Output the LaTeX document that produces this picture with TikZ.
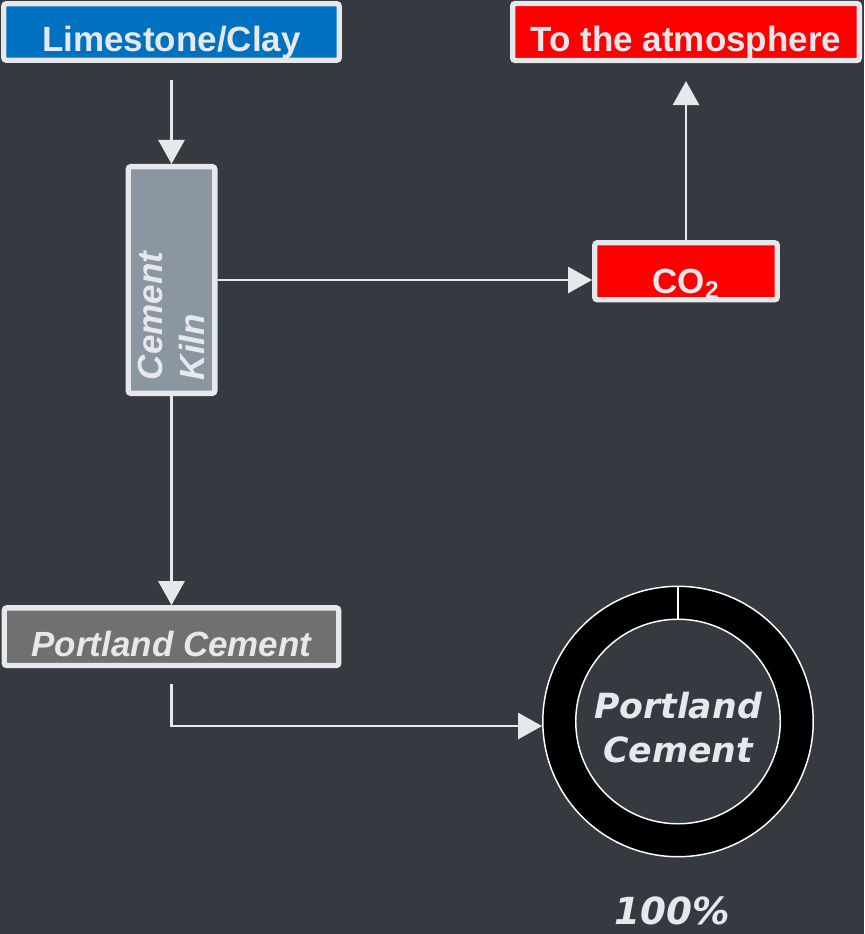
\documentclass[tikz,border=0pt]{standalone}
\usepackage{fontspec}
\setmainfont{Liberation Sans}
\newfontfamily\ringfont{DejaVu Sans}
\usepackage{tikz}
\usetikzlibrary{arrows.meta}

\definecolor{bgdark}{HTML}{353940}
\definecolor{paleline}{HTML}{E6E8EC}
\definecolor{feedblue}{HTML}{0070C0}
\definecolor{kilngray}{HTML}{8A96A0}
\definecolor{cementgray}{HTML}{707070}

\begin{document}
\begin{tikzpicture}[x=0.75pt, y=-0.75pt, >={Triangle[width=19.5pt,length=18pt]},
    every node/.style={font=\fontsize{26.25}{31.5}\selectfont\bfseries, text=paleline},
    box/.style={draw=paleline, line width=4pt, rounded corners=2pt, inner sep=2pt},
    lowtext/.style={text height=30pt, text depth=0pt},
    flow/.style={->, draw=paleline, line width=2pt}]
    % Background
    \fill[bgdark] (0,0) rectangle (864,934);
    \useasboundingbox (0,0) rectangle (864,934);

    % Process boxes
    \node[box, lowtext, fill=feedblue, minimum width=251.6pt, minimum height=42.4pt] (feed) at (171.5,32) {Limestone/Clay};
    \node[box, lowtext, fill=red, minimum width=260pt, minimum height=42.75pt] (atmo) at (686,32) {To the atmosphere};
    \node[box, lowtext, fill=red, minimum width=136.9pt, minimum height=42.75pt, text height=33pt] (co2) at (686,271.25) {CO\textsubscript{2}};
    \node[box, lowtext, fill=cementgray, minimum width=250.9pt, minimum height=43.3pt, font=\fontsize{26.25}{31.5}\selectfont\bfseries\itshape] (plc) at (171.5,636.7) {Portland Cement};

    % Kiln (rotated: its east is the top, its west the bottom)
    \node[box, fill=kilngray, rotate=90, minimum width=170pt, minimum height=65pt, inner xsep=10pt, text width=150pt, align=left, font=\fontsize{26.25}{31.5}\selectfont\bfseries\itshape] (kiln) at (171.5,280) {Cement\\Kiln};

    % Product ring
    \node[circle, draw=white, line width=1.1pt, fill=black, minimum size=202.8pt, inner sep=0pt] (ring) at (678,721.5) {};
    \node[circle, draw=white, line width=1.1pt, fill=bgdark, minimum size=153.4pt, inner sep=0pt, align=center, text height=61.8pt, font=\ringfont\fontsize{26}{33}\selectfont\bfseries\itshape] (core) at (ring) {Portland\\Cement};
    \draw[white, line width=1.5pt] (ring.north) -- (core.north);
    \node[anchor=base, inner sep=0pt, font=\ringfont\fontsize{28}{33}\selectfont\bfseries\itshape] (share) at (672,924) {100\%};

    % Flows
    \draw[flow, shorten <=12.75pt] (feed.south) -- (kiln.east);
    \draw[flow] (kiln.south) -- (kiln.south -| co2.west);
    \draw[flow, shorten >=13.4pt] (co2.north) -- (atmo.south);
    \draw[flow] (kiln.west) -- (plc.north);
    \draw[flow, shorten <=12pt] (plc.south) |- ([yshift=-3.4pt]ring.west);
\end{tikzpicture}
\end{document}
